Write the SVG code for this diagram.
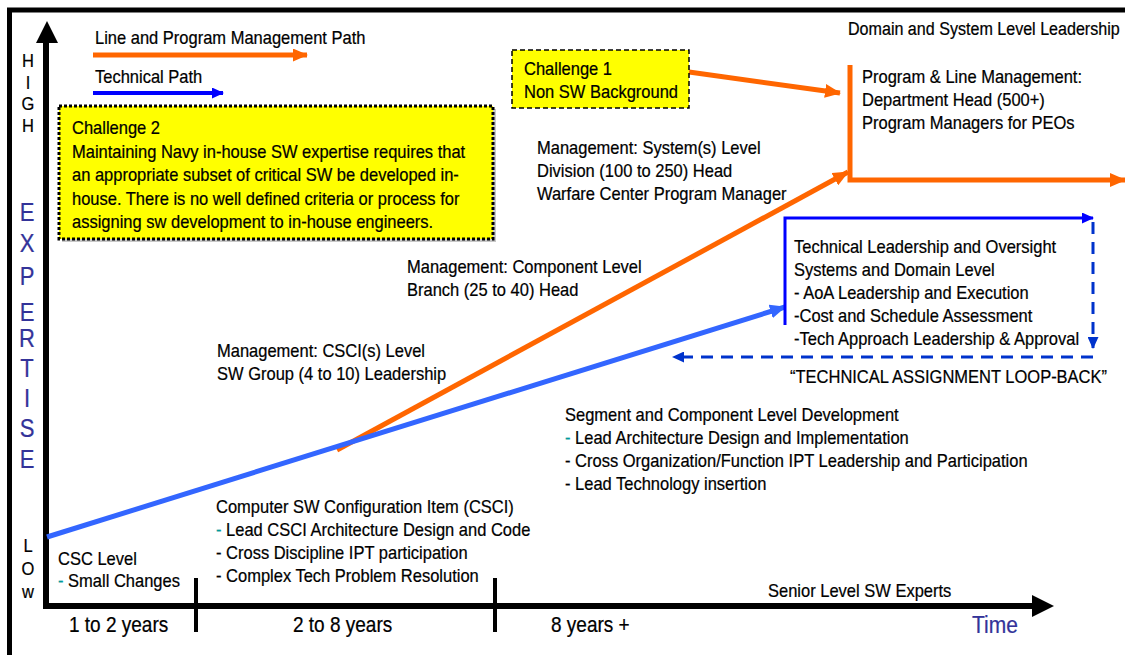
<svg xmlns="http://www.w3.org/2000/svg" width="1125" height="655" viewBox="0 0 1125 655">
<style>
text{font-family:"Liberation Sans",Arial,sans-serif;font-size:16.5px;fill:#000;stroke:#000;stroke-width:0.2}
.exp{font-size:22px;fill:#333399;stroke:#333399}
.yr{font-size:19px}
.time{font-size:21px;fill:#333399;stroke:#333399}
.teal{fill:#009999;stroke:#009999}
.dom{font-size:16.1px}
.or{stroke:#FF6600;stroke-width:5;fill:none}
.bl{stroke:#3366FF;stroke-width:5;fill:none}
.bd{stroke:#0000FF;stroke-width:3;fill:none}
.dash{stroke:#0033CC;stroke-width:3;fill:none;stroke-dasharray:12 8}
.ax{stroke:#000;stroke-width:6;fill:none}
.tick{stroke:#000;stroke-width:4}
</style>
<defs>
<marker id="ao" markerUnits="userSpaceOnUse" markerWidth="16" markerHeight="14" viewBox="0 0 16 14" refX="15" refY="7" orient="auto"><path d="M0,0 L16,7 L0,14 z" fill="#FF6600"/></marker>
<marker id="ab" markerUnits="userSpaceOnUse" markerWidth="16" markerHeight="14" viewBox="0 0 16 14" refX="15" refY="7" orient="auto"><path d="M0,0 L16,7 L0,14 z" fill="#3366FF"/></marker>
<marker id="abd" markerUnits="userSpaceOnUse" markerWidth="12" markerHeight="11" viewBox="0 0 12 11" refX="11" refY="5.5" orient="auto"><path d="M0,0 L12,5.5 L0,11 z" fill="#0000FF"/></marker>
<marker id="ads" markerUnits="userSpaceOnUse" markerWidth="12" markerHeight="11" viewBox="0 0 12 11" refX="11" refY="5.5" orient="auto"><path d="M0,0 L12,5.5 L0,11 z" fill="#0033CC"/></marker>
<marker id="aol" markerUnits="userSpaceOnUse" markerWidth="15" markerHeight="13" viewBox="0 0 15 13" refX="14" refY="6.5" orient="auto"><path d="M0,0 L15,6.5 L0,13 z" fill="#FF6600"/></marker>
<marker id="abl" markerUnits="userSpaceOnUse" markerWidth="12" markerHeight="11" viewBox="0 0 12 11" refX="11" refY="5.5" orient="auto"><path d="M0,0 L12,5.5 L0,11 z" fill="#0000FF"/></marker>
</defs>
<rect width="1125" height="655" fill="#fff"/>
<g id="frame">
<path d="M9.5,660 V10 H1130" stroke="#000" stroke-width="5" fill="none"/>
</g>
<g id="axes">
<path class="ax" d="M46,40 V606 H1036"/>
<path d="M36,43 L47,21 L58,43 z" fill="#000"/>
<path d="M1032,595 L1054,606 L1032,617 z" fill="#000"/>
<line class="tick" x1="196" y1="578" x2="196" y2="632"/>
<line class="tick" x1="495" y1="578" x2="495" y2="632"/>
</g>
<g id="legend">
<line x1="93" y1="55" x2="307" y2="55" stroke="#FF6600" stroke-width="5" marker-end="url(#aol)"/>
<line x1="93" y1="93" x2="223" y2="93" stroke="#0000FF" stroke-width="4" marker-end="url(#abl)"/>
<text transform="matrix(1 0 0 1.13 95 44)">Line and Program Management Path</text>
<text transform="matrix(1 0 0 1.13 95 83)">Technical Path</text>
</g>
<g id="y-labels" text-anchor="middle">
<text transform="matrix(1 0 0 1.13 28 67)">H</text>
<text transform="matrix(1 0 0 1.13 28 89)">I</text>
<text transform="matrix(1 0 0 1.13 28 110)">G</text>
<text transform="matrix(1 0 0 1.13 28 132)">H</text>
<text class="exp" transform="matrix(1 0 0 1.13 27 221)">E</text>
<text class="exp" transform="matrix(1 0 0 1.13 27 252)">X</text>
<text class="exp" transform="matrix(1 0 0 1.13 27 285)">P</text>
<text class="exp" transform="matrix(1 0 0 1.13 27 321)">E</text>
<text class="exp" transform="matrix(1 0 0 1.13 27 347)">R</text>
<text class="exp" transform="matrix(1 0 0 1.13 27 377)">T</text>
<text class="exp" transform="matrix(1 0 0 1.13 27 407)">I</text>
<text class="exp" transform="matrix(1 0 0 1.13 27 437)">S</text>
<text class="exp" transform="matrix(1 0 0 1.13 27 468)">E</text>
<text transform="matrix(1 0 0 1.13 28 552)">L</text>
<text transform="matrix(1 0 0 1.13 28 575)">O</text>
<text transform="matrix(1 0 0 1.13 28 598)">w</text>
</g>
<g id="x-labels">
<text class="yr" transform="matrix(1 0 0 1.13 69 632)">1 to 2 years</text>
<text class="yr" transform="matrix(1 0 0 1.13 293 632)">2 to 8 years</text>
<text class="yr" transform="matrix(1 0 0 1.13 551 632)">8 years +</text>
<text class="time" transform="matrix(1 0 0 1.13 972 633)">Time</text>
<text transform="matrix(1 0 0 1.13 768 597)">Senior Level SW Experts</text>
</g>
<g id="connectors">
<line class="or" x1="337" y1="450" x2="848" y2="172" marker-end="url(#ao)"/>
<line class="or" x1="689" y1="72" x2="840" y2="93" marker-end="url(#ao)"/>
<path class="or" d="M850,65 V180 H1125" marker-end="url(#ao)"/>
<line class="bl" x1="47" y1="537" x2="785" y2="307" marker-end="url(#ab)"/>
<path class="bd" d="M785,325 V218 H1093" marker-end="url(#abd)"/>
<path class="dash" d="M1093,222 V348" marker-end="url(#ads)"/>
<path class="dash" d="M1093,357 H673" marker-end="url(#ads)"/>
</g>
<g id="challenge2">
<rect x="62" y="109" width="434" height="133" fill="#c8c8c8"/>
<rect x="59" y="106" width="434" height="133" fill="#FFFF00" stroke="#000" stroke-width="3" stroke-dasharray="3 2"/>
<text transform="matrix(1 0 0 1.13 72 134)">Challenge 2</text>
<text transform="matrix(1 0 0 1.13 72 158)">Maintaining Navy in-house SW expertise requires that</text>
<text transform="matrix(1 0 0 1.13 72 181)">an appropriate subset of critical SW be developed in-</text>
<text transform="matrix(1 0 0 1.13 72 205)">house. There is no well defined criteria or process for</text>
<text transform="matrix(1 0 0 1.13 72 228)">assigning sw development to in-house engineers.</text>
</g>
<g id="challenge1">
<rect x="512" y="50" width="177" height="58" fill="#FFFF00" stroke="#000" stroke-width="1.5" stroke-dasharray="5 3"/>
<text transform="matrix(1 0 0 1.13 524 75)">Challenge 1</text>
<text transform="matrix(1 0 0 1.13 524 98)">Non SW Background</text>
</g>
<g id="domain">
<text class="dom" transform="matrix(1 0 0 1.13 848 35)">Domain and System Level Leadership</text>
</g>
<g id="program-line">
<text transform="matrix(1 0 0 1.13 862 83)">Program &amp; Line Management:</text>
<text transform="matrix(1 0 0 1.13 862 106)">Department Head (500+)</text>
<text transform="matrix(1 0 0 1.13 862 129)">Program Managers for PEOs</text>
</g>
<g id="mgmt-system">
<text transform="matrix(1 0 0 1.13 537 154)">Management: System(s) Level</text>
<text transform="matrix(1 0 0 1.13 537 177)">Division (100 to 250) Head</text>
<text transform="matrix(1 0 0 1.13 537 200)">Warfare Center Program Manager</text>
</g>
<g id="mgmt-component">
<text transform="matrix(1 0 0 1.13 407 273)">Management: Component Level</text>
<text transform="matrix(1 0 0 1.13 407 296)">Branch (25 to 40) Head</text>
</g>
<g id="mgmt-csci">
<text transform="matrix(1 0 0 1.13 217 357)">Management: CSCI(s) Level</text>
<text transform="matrix(1 0 0 1.13 217 380)">SW Group (4 to 10) Leadership</text>
</g>
<g id="tech-leadership">
<text transform="matrix(1 0 0 1.13 794 253)">Technical Leadership and Oversight</text>
<text transform="matrix(1 0 0 1.13 794 276)">Systems and Domain Level</text>
<text transform="matrix(1 0 0 1.13 794 299)">- AoA Leadership and Execution</text>
<text transform="matrix(1 0 0 1.13 794 322)">-Cost and Schedule Assessment</text>
<text transform="matrix(1 0 0 1.13 794 345)">-Tech Approach Leadership &amp; Approval</text>
<text transform="matrix(1 0 0 1.13 790 383)">“TECHNICAL ASSIGNMENT LOOP-BACK”</text>
</g>
<g id="segment">
<text transform="matrix(1 0 0 1.13 565 421)">Segment and Component Level Development</text>
<text transform="matrix(1 0 0 1.13 565 444)"><tspan class="teal">-</tspan> Lead Architecture Design and Implementation</text>
<text transform="matrix(1 0 0 1.13 565 467)">- Cross Organization/Function IPT Leadership and Participation</text>
<text transform="matrix(1 0 0 1.13 565 490)">- Lead Technology insertion</text>
</g>
<g id="csci">
<text transform="matrix(1 0 0 1.13 216 513)">Computer SW Configuration Item (CSCI)</text>
<text transform="matrix(1 0 0 1.13 216 536)"><tspan class="teal">-</tspan> Lead CSCI Architecture Design and Code</text>
<text transform="matrix(1 0 0 1.13 216 559)">- Cross Discipline IPT participation</text>
<text transform="matrix(1 0 0 1.13 216 582)">- Complex Tech Problem Resolution</text>
</g>
<g id="csc">
<text transform="matrix(1 0 0 1.13 58 565)">CSC Level</text>
<text transform="matrix(1 0 0 1.13 58 587)"><tspan class="teal">-</tspan> Small Changes</text>
</g>
</svg>
